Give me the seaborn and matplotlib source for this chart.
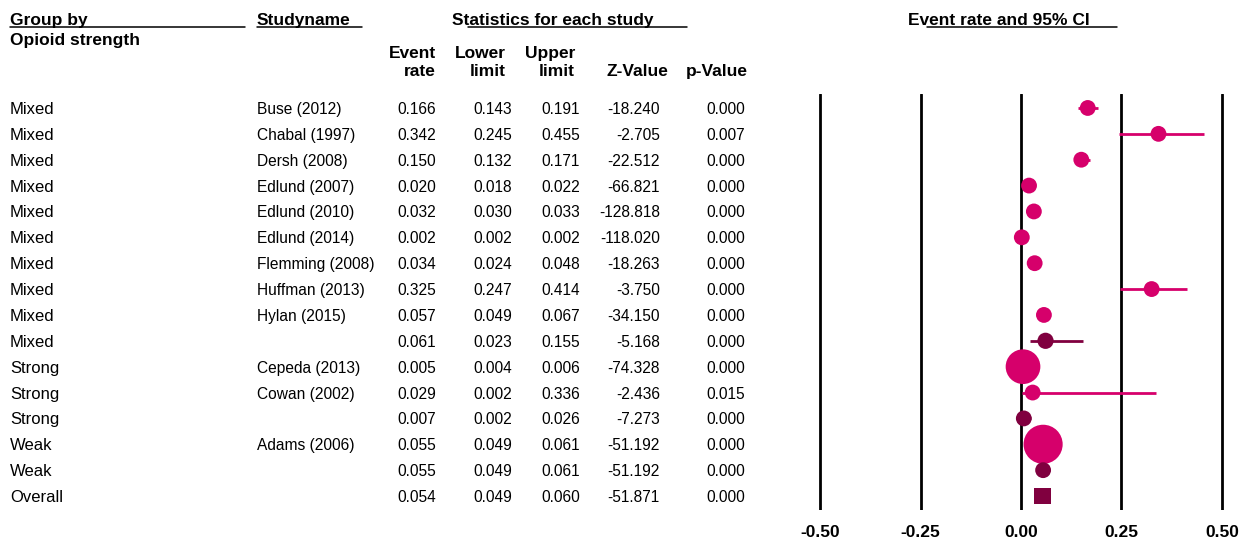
# Forest plot: event rate by opioid strength
import pandas as pd
import matplotlib
matplotlib.use("Agg")
import matplotlib.pyplot as plt
import matplotlib.transforms as mtransforms
from matplotlib.lines import Line2D
import seaborn as sns

# data
groups = ["Mixed"] * 10 + ["Strong"] * 3 + ["Weak"] * 2 + ["Overall"]
studies = ["Buse (2012)", "Chabal (1997)", "Dersh (2008)", "Edlund (2007)",
           "Edlund (2010)", "Edlund (2014)", "Flemming (2008)", "Huffman (2013)",
           "Hylan (2015)", "", "Cepeda (2013)", "Cowan (2002)", "",
           "Adams (2006)", "", ""]
event_rate = [0.166, 0.342, 0.150, 0.020, 0.032, 0.002, 0.034, 0.325, 0.057,
              0.061, 0.005, 0.029, 0.007, 0.055, 0.055, 0.054]
lower = [0.143, 0.245, 0.132, 0.018, 0.030, 0.002, 0.024, 0.247, 0.049,
         0.023, 0.004, 0.002, 0.002, 0.049, 0.049, 0.049]
upper = [0.191, 0.455, 0.171, 0.022, 0.033, 0.002, 0.048, 0.414, 0.067,
         0.155, 0.006, 0.336, 0.026, 0.061, 0.061, 0.060]
z_value = [-18.240, -2.705, -22.512, -66.821, -128.818, -118.020, -18.263,
           -3.750, -34.150, -5.168, -74.328, -2.436, -7.273, -51.192,
           -51.192, -51.871]
p_value = [0.000, 0.007, 0.000, 0.000, 0.000, 0.000, 0.000, 0.000, 0.000,
           0.000, 0.000, 0.015, 0.000, 0.000, 0.000, 0.000]
row_kind = ["study"] * 9 + ["subgroup"] + ["study"] * 2 + ["subgroup"] + \
           ["study"] + ["subgroup"] + ["overall"]
weight = [1, 1, 1, 1, 1, 1, 1, 1, 1, 1.05, 4.8, 1, 1, 6.1, 1, 1.13]
x_ticks = [-0.50, -0.25, 0.00, 0.25, 0.50]

df = pd.DataFrame({
    "Group": groups, "Study": studies, "Rate": event_rate, "Lower": lower,
    "Upper": upper, "Z": z_value, "P": p_value, "Kind": row_kind,
    "Weight": weight,
})
df["Row"] = range(len(df))

sns.set_style("white")
plt.rcParams["font.family"] = ["Liberation Sans", "DejaVu Sans"]
plt.rcParams["text.color"] = "black"
plt.rcParams["xtick.color"] = "black"

PINK = "#d6006b"
DARK = "#80003f"
colors = {"study": PINK, "subgroup": DARK, "overall": DARK}

W, H = 1248, 547
fig = plt.figure(figsize=(W / 100, H / 100), dpi=100)
ax = fig.add_axes([800 / W, (H - 510) / H, 440 / W, 416 / H])

for t in x_ticks:
    ax.axvline(t, color="black", lw=2, zorder=1)

ax.hlines(df["Row"], df["Lower"], df["Upper"],
          colors=[colors[k] for k in df["Kind"]], lw=2, zorder=2)

base = 130
sns.scatterplot(data=df, x="Rate", y="Row", hue="Kind", palette=colors,
                style="Kind", markers={"study": "o", "subgroup": "o", "overall": "s"},
                size="Weight", sizes=(base * min(weight), base * max(weight)),
                size_norm=(min(weight), max(weight)), linewidth=0,
                legend=False, ax=ax, zorder=3)

ax.set_xlim(-0.5498, 0.5448)
ax.set_ylim(15.54, -0.54)
ax.set_yticks([])
ax.set_xticks(x_ticks)
ax.set_xticklabels([f"{t:.2f}" for t in x_ticks], fontweight="bold", fontsize=12.5)
ax.tick_params(axis="x", length=0, pad=11, labelcolor="black")
ax.set_xlabel("")
ax.set_ylabel("")
sns.despine(ax=ax, left=True, bottom=True)

# table columns, aligned on the plot rows
trans = mtransforms.blended_transform_factory(fig.transFigure, ax.transData)
trans = mtransforms.offset_copy(trans, fig=fig, y=-6, units="dots")
fs = 12.5
fs_g = 12
fs_n = 11.2
for _, r in df.iterrows():
    y = r["Row"]
    ax.text(10 / W, y, r["Group"], transform=trans, fontsize=fs_g, va="baseline")
    ax.text(257 / W, y, r["Study"], transform=trans, fontsize=fs_n, va="baseline")
    cols = [(436, f"{r['Rate']:.3f}"), (512, f"{r['Lower']:.3f}"),
            (580, f"{r['Upper']:.3f}"), (660, f"{r['Z']:.3f}"),
            (745, f"{r['P']:.3f}")]
    for xr, s in cols:
        ax.text(xr / W, y, s, transform=trans, fontsize=fs_n, va="baseline",
                ha="right")


def ftext(x, y, s, ha="left"):
    fig.text(x / W, 1 - y / H, s, fontsize=fs, fontweight="bold",
             va="baseline", ha=ha)


def uline(x0, x1, y=26.5):
    fig.add_artist(Line2D([x0 / W, x1 / W], [1 - y / H] * 2,
                          transform=fig.transFigure, color="black", lw=1.1))


ftext(10, 25, "Group by")
ftext(10, 45, "Opioid strength")
ftext(257, 25, "Studyname")
ftext(452, 25, "Statistics for each study")
ftext(908, 25, "Event rate and 95% CI")
uline(10, 245)
uline(257, 362)
uline(468, 687)
uline(927, 1117)

ftext(436, 58, "Event", "right")
ftext(436, 76, "rate", "right")
ftext(506, 58, "Lower", "right")
ftext(506, 76, "limit", "right")
ftext(575, 58, "Upper", "right")
ftext(575, 76, "limit", "right")
ftext(668, 76, "Z-Value", "right")
ftext(748, 76, "p-Value", "right")

fig.savefig("out.png", dpi=100)
